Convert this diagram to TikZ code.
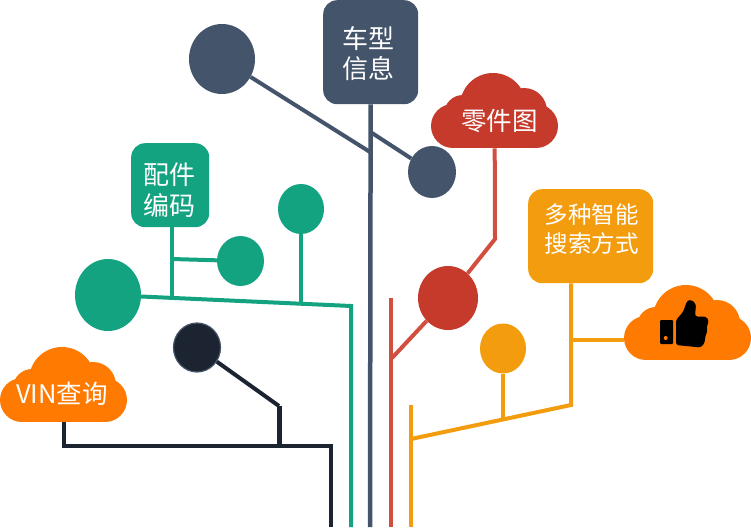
\documentclass[tikz,border=0pt]{standalone}
\usepackage{fontspec}
\setmainfont{Noto Sans CJK SC}
\usetikzlibrary{shapes.geometric}
\definecolor{slateC}{HTML}{44546A}
\definecolor{tealC}{HTML}{13A381}
\definecolor{redC}{HTML}{C53A2B}
\definecolor{redL}{HTML}{D24F40}
\definecolor{amberC}{HTML}{F39C0E}
\definecolor{orangeC}{HTML}{FF7A00}
\definecolor{darkC}{HTML}{1C2431}
\tikzset{
  blob/.style={ellipse,inner sep=0pt,minimum width=#1},
  rbox/.style={rectangle,rounded corners=14pt,inner sep=0pt},
  cloudbox/.style={rectangle,inner sep=0pt,minimum width=127pt,minimum height=75pt,anchor=north west},
  label text/.style={inner sep=0pt,align=center,text=white},
  wire/.style={line width=4pt,line join=miter},
}
\newcommand{\cloudshape}[3]{%
  \begin{scope}[shift={(#1,#2)}]
    \fill[#3] (22,53) circle[radius=22];
    \fill[#3] (32,41) circle[radius=19];
    \fill[#3] (62,33) circle[radius=33];
    \fill[#3] (93,38) circle[radius=23];
    \fill[#3] (105,53) circle[radius=22];
    \fill[#3] (22,31) rectangle (105,75);
  \end{scope}}
\begin{document}
\begin{tikzpicture}[x=1pt,y=-1pt]
\useasboundingbox (0,0) rectangle (751,530);
% clouds
\cloudshape{0}{347}{orangeC}
\cloudshape{431}{73}{redC}
\cloudshape{624}{285}{orangeC}
\node[cloudbox] (vin) at (0,347) {};
\node[cloudbox] (part) at (431,73) {};
\node[cloudbox] (thumb) at (624,285) {};
\node[label text,font=\fontsize{25.5pt}{28pt}\selectfont] (vintext) at (62,394) {VIN查询};
\node[label text,font=\fontsize{25.5pt}{28pt}\selectfont] (parttext) at (499.5,121) {零件图};
% thumb icon
\fill[black,rounded corners=1pt] (660,320) rectangle (673,344);
\fill[orangeC] (665.7,338) circle[radius=2];
\fill[black,rounded corners=2.5pt] (676,320) -- (683,312) -- (687,301) -- (691,299.5) -- (696,304) -- (695,316.5)
  -- (706,316.5) -- (709,321) -- (706.5,327) -- (707.5,331) -- (705,337) -- (705,342) -- (701,347.5) -- (676,345) -- cycle;
% boxes
\node[rbox,fill=slateC,minimum width=95pt,minimum height=104pt,anchor=north west] (info) at (323,0) {};
\node[rbox,fill=tealC,minimum width=78pt,minimum height=84pt,anchor=north west] (code) at (131,143) {};
\node[rbox,fill=amberC,minimum width=125pt,minimum height=94pt,anchor=north west] (search) at (528,189) {};
\node[label text,font=\fontsize{26pt}{29.5pt}\selectfont] (infotext) at (368.5,53.5) {车型\\信息};
\node[label text,font=\fontsize{26pt}{31pt}\selectfont] (codetext) at (169,190) {配件\\编码};
\node[label text,font=\fontsize{23.5pt}{29pt}\selectfont] (searchtext) at (591.5,229.5) {多种智能\\搜索方式};
% round nodes
\node[blob=66pt,minimum height=70pt,fill=slateC] (s1) at (222,59) {};
\node[blob=48pt,minimum height=52pt,fill=slateC] (s2) at (432,172) {};
\node[blob=66pt,minimum height=72pt,fill=tealC] (t1) at (108,295) {};
\node[blob=47pt,minimum height=50pt,fill=tealC] (t2) at (240.5,261) {};
\node[blob=46pt,minimum height=50pt,fill=tealC] (t3) at (301,209) {};
\node[blob=60pt,minimum height=64pt,fill=redC] (r1) at (448,298) {};
\node[blob=46pt,minimum height=50pt,fill=amberC] (a1) at (503,348.5) {};
\node[blob=47pt,minimum height=49pt,fill=darkC,draw=slateC,line width=1.2pt] (d1) at (197,347.5) {};
% junction coordinates
\coordinate (sj1) at (370,152); \coordinate (sj2) at (372,133); \coordinate (sb) at (370,527);
\coordinate (tj) at (351,306); \coordinate (tb) at (351,527);
\coordinate (tc) at (172,295.5); \coordinate (tm) at (172,259); \coordinate (tr) at (301,302.3);
\coordinate (rj) at (495,239); \coordinate (re) at (392,358); \coordinate (rt) at (391,298); \coordinate (rb) at (391,527);
\coordinate (aj) at (571,405); \coordinate (ae) at (411,439); \coordinate (at) at (411,405); \coordinate (ab) at (411,527);
\coordinate (am) at (571,340); \coordinate (ay) at (503,418.3);
\coordinate (dk) at (279,406); \coordinate (dj) at (279,446); \coordinate (dr) at (331,446); \coordinate (db) at (331,527);
\coordinate (tcu) at (172,227);
% connectors
\begin{scope}[wire]
\draw[slateC,line width=4.5pt] (info) -- (sb);
\draw[slateC] (s1) -- (sj1);
\draw[slateC] (s2) -- (sj2);
\draw[tealC] (t1) -- (tj) -- (tb);
\draw[tealC] (tcu) -- (tc);
\draw[tealC] (tm) -- (t2);
\draw[tealC] (t3) -- (tr);
\draw[redL] (part.south) -- (rj) -- (r1);
\draw[redL] (r1) -- (re);
\draw[redL] (rt) -- (rb);
\draw[amberC] (search.south -| aj) -- (aj) -- (ae);
\draw[amberC] (at) -- (ab);
\draw[amberC] (am) -- (thumb.west |- am);
\draw[amberC] (a1) -- (ay);
\draw[darkC] (d1) -- (dk);
\draw[darkC,line width=5pt] (dk) -- (dj);
\draw[darkC] (vin.south) |- (dr) -- (db);
\end{scope}
\end{tikzpicture}
\end{document}
